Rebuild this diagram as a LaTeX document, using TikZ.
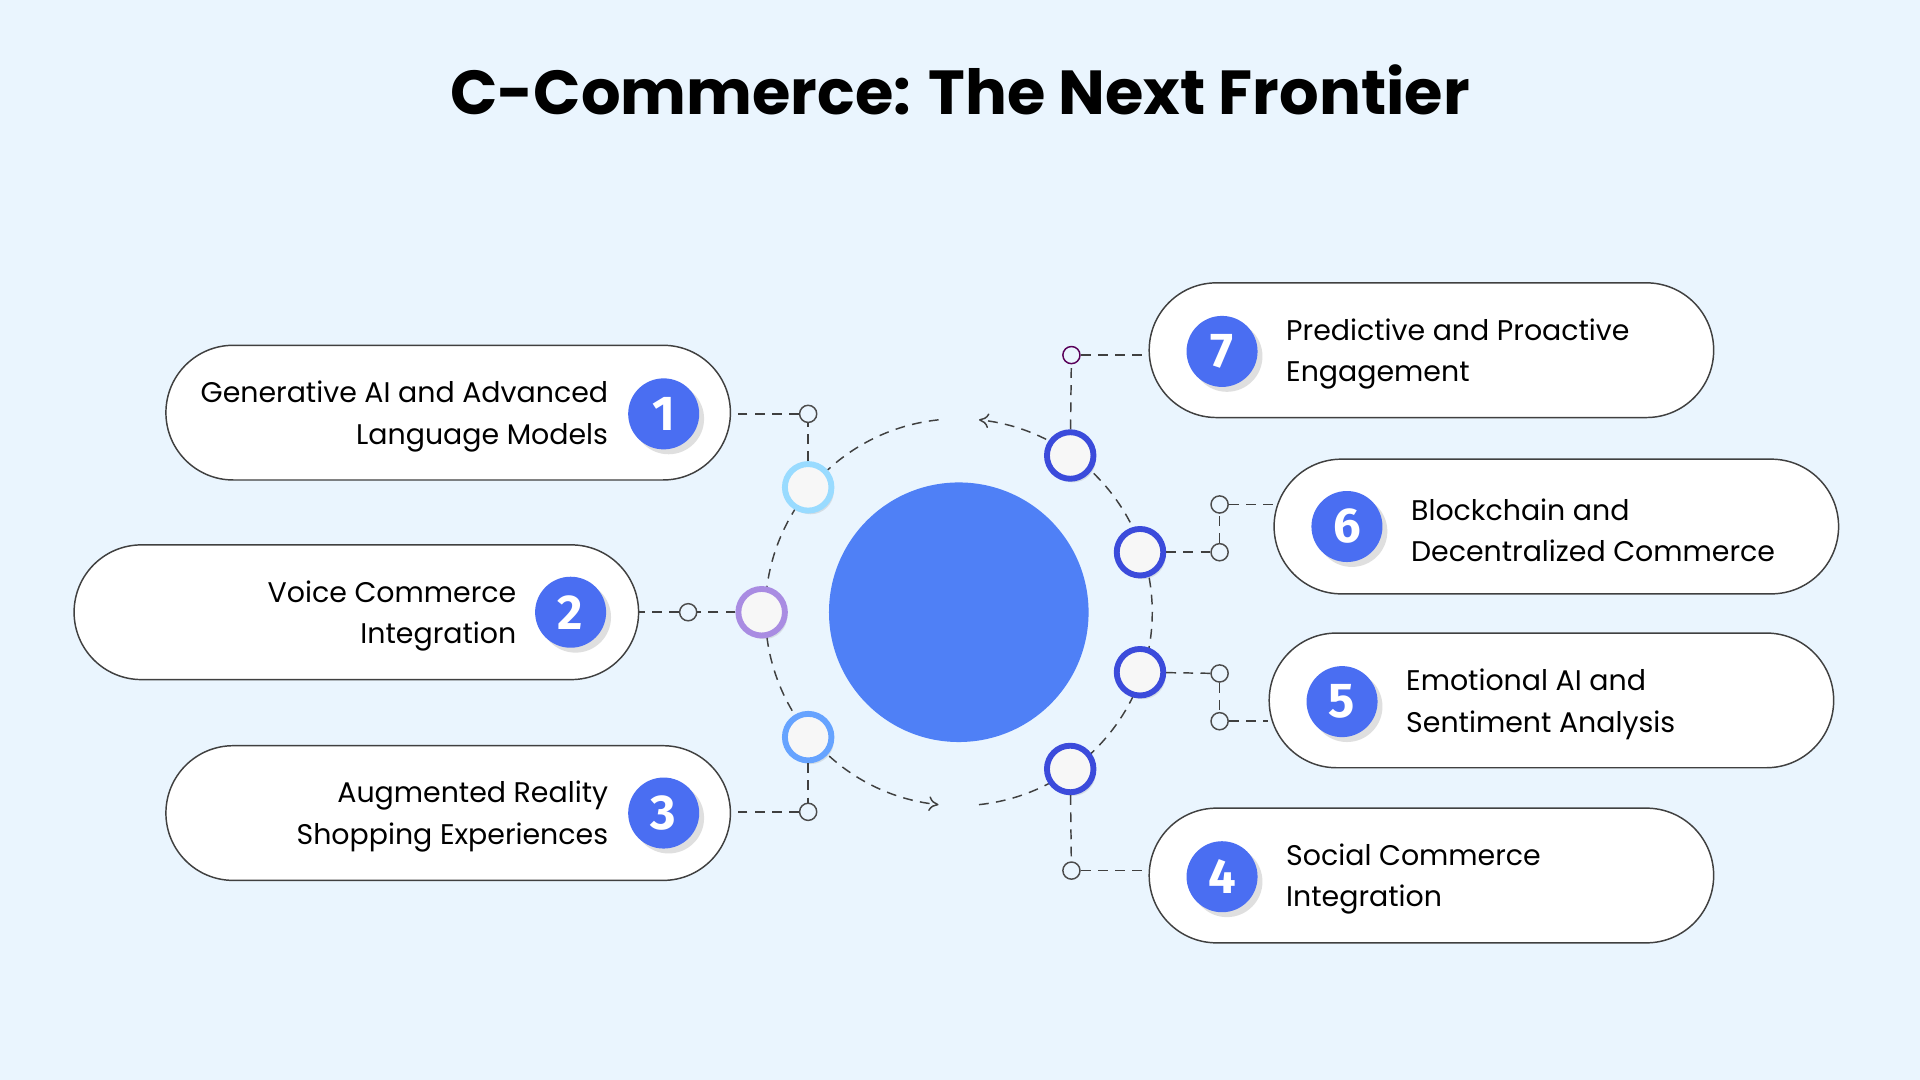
\documentclass[tikz,border=0pt]{standalone}
\usepackage{fontspec}
\setmainfont{Poppins}
\newfontfamily\numfont{Fira Sans}
\usetikzlibrary{shadows,arrows.meta}
\definecolor{bg}{HTML}{EAF5FE}
\definecolor{mainblue}{HTML}{4F80F6}
\definecolor{badge}{HTML}{4A6EF2}
\definecolor{dk}{HTML}{3B4BDB}
\begin{document}
\begin{tikzpicture}[x=0.5pt,y=0.5pt,
 pill/.style={draw=black!75,line width=0.6pt,fill=white,rounded corners=27.5pt,minimum width=230.5pt,minimum height=55pt},
 badge/.style={circle,fill=badge,minimum size=29pt,inner sep=0pt,text=white,font=\numfont\bfseries\fontsize{20}{20}\selectfont,drop shadow={opacity=0.25,shadow xshift=2pt,shadow yshift=-2pt}},
 ring/.style={circle,fill=black!3,draw=#1,line width=2.4pt,minimum size=19pt,inner sep=0pt,drop shadow={opacity=0.2,shadow xshift=1pt,shadow yshift=-1.5pt}},
 dot/.style={circle,draw=black!70,fill=bg,line width=0.6pt,minimum size=7pt,inner sep=0pt},
 dl/.style={dashed,draw=black!75,line width=0.6pt,dash pattern=on 4pt off 3pt},
 lbl/.style={font=\fontsize{11.6}{17}\selectfont,align=#1,inner sep=0pt,yshift=-1.5pt}]
\fill[bg] (0,0) rectangle (1568,882);
\useasboundingbox (0,0) rectangle (1568,882);
\node[font=\bfseries\fontsize{25.4}{30}\selectfont] (title) at (784,809) {C-Commerce: The Next Frontier};
\node[circle,fill=mainblue,minimum size=106pt,inner sep=0pt] (c) at (783,382) {};
% arcs
\draw[dl,-{To[length=4pt,width=6pt]}] (783,382) ++(96:158) arc[start angle=96,end angle=264,radius=158];
\draw[dl,-{To[length=4pt,width=6pt]}] (783,382) ++(-84:158) arc[start angle=-84,end angle=84,radius=158];
% pills
\node[pill] (p1) at (366,545) {};
\node[pill] (p2) at (291,382) {};
\node[pill] (p3) at (366,218) {};
\node[pill] (p7) at (1169,596) {};
\node[pill] (p6) at (1271,452) {};
\node[pill] (p5) at (1267,310) {};
\node[pill] (p4) at (1169,167) {};
% ring nodes
\node[ring=blue!35!cyan!40] (r1) at (660,484) {};
\node[ring=violet!50!blue!45] (r2) at (622,382) {};
\node[ring=blue!60!cyan!60] (r3) at (660,280) {};
\node[ring=dk] (r7) at (874,510) {};
\node[ring=dk] (r6) at (931,431) {};
\node[ring=dk] (r5) at (931,333) {};
\node[ring=dk] (r4) at (874,254) {};
% connectors
\node[dot] (d1) at (660,544) {};
\draw[dl] (r1) -- (d1); \draw[dl] (d1) -- (p1.east|-d1);
\node[dot] (d2) at (562,382) {};
\draw[dl] (r2) -- (d2); \draw[dl] (d2) -- (p2.east|-d2);
\node[dot] (d3) at (660,219) {};
\draw[dl] (r3) -- (d3); \draw[dl] (d3) -- (p3.east|-d3);
\node[dot,draw=violet!70!black] (d7) at (875,592) {};
\draw[dl] (r7) -- (d7); \draw[dl] (d7) -- (p7.west|-d7);
\node[dot] (d6a) at (996,431) {}; \node[dot] (d6b) at (996,470) {};
\draw[dl] (r6) -- (d6a); \draw[dl] (d6a) -- (d6b); \draw[dl] (d6b) -- (p6.west|-d6b);
\node[dot] (d5a) at (996,332) {}; \node[dot] (d5b) at (996,293) {};
\draw[dl] (r5) -- (d5a); \draw[dl] (d5a) -- (d5b); \draw[dl] (d5b) -- (p5.west|-d5b);
\node[dot] (d4) at (875,171) {};
\draw[dl] (r4) -- (d4); \draw[dl] (d4) -- (p4.west|-d4);
% badges
\node[badge] (b1) at (542,544) {1};
\node[badge] (b2) at (466,382) {2};
\node[badge] (b3) at (542,218) {3};
\node[badge] (b7) at (998,595) {7};
\node[badge] (b6) at (1100,452) {6};
\node[badge] (b5) at (1096,309) {5};
\node[badge] (b4) at (998,166) {4};
% labels
\node[lbl=right,anchor=east] (t1) at (497,545) {Generative AI and Advanced\\Language Models};
\node[lbl=right,anchor=east] (t2) at (422,382) {Voice Commerce\\Integration};
\node[lbl=right,anchor=east] (t3) at (497,218) {Augmented Reality\\Shopping Experiences};
\node[lbl=left,anchor=west] (t7) at (1050,596) {Predictive and Proactive\\Engagement};
\node[lbl=left,anchor=west] (t6) at (1152,452) {Blockchain and\\Decentralized Commerce};
\node[lbl=left,anchor=west] (t5) at (1148,310) {Emotional AI and\\Sentiment Analysis};
\node[lbl=left,anchor=west] (t4) at (1050,167) {Social Commerce\\Integration};
\end{tikzpicture}
\end{document}
